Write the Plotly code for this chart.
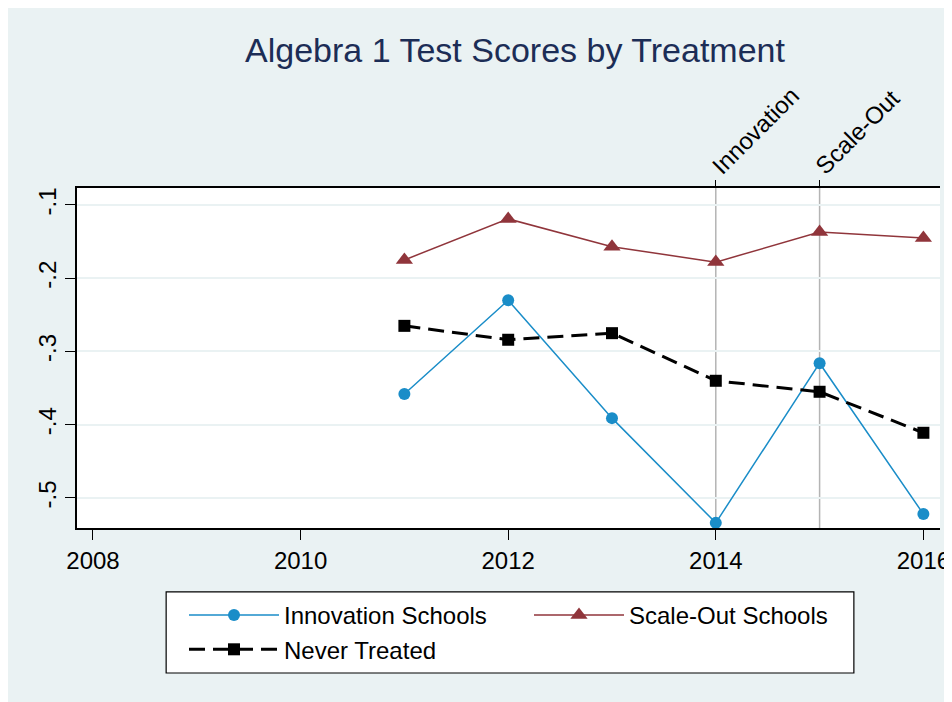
import plotly.graph_objects as go

# Data
years = [2011, 2012, 2013, 2014, 2015, 2016]
innovation = [-0.358, -0.230, -0.391, -0.534, -0.316, -0.522]
scale_out = [-0.175, -0.119, -0.157, -0.178, -0.137, -0.145]
never_treated = [-0.265, -0.284, -0.275, -0.340, -0.355, -0.411]

x_ticks = [2008, 2010, 2012, 2014, 2016]
y_ticks = [-0.1, -0.2, -0.3, -0.4, -0.5]
y_tick_labels = ['-.1', '-.2', '-.3', '-.4', '-.5']
events = [(2014, 'Innovation'), (2015, 'Scale-Out')]

FONT = 'Liberation Sans, Arial, sans-serif'
BG = '#EAF2F3'
COLORS = {
    'innovation': '#1A8DC8',
    'scale_out': '#90353B',
    'never': '#000000',
    'title': '#1C2D56',
}

# page body adds an 8px offset (white strip on left/top, like the reference)
W, H = 952, 702
X_RANGE = [2007.846, 2016.16]

fig = go.Figure()

fig.add_trace(go.Scatter(
    x=years, y=innovation, name='Innovation Schools', mode='lines+markers',
    line=dict(color=COLORS['innovation'], width=1.5),
    marker=dict(symbol='circle', size=12, color=COLORS['innovation']),
))
fig.add_trace(go.Scatter(
    x=years, y=scale_out, name='Scale-Out Schools', mode='lines+markers',
    line=dict(color=COLORS['scale_out'], width=1.5),
    marker=dict(symbol='triangle-up', size=15, color=COLORS['scale_out']),
))
fig.add_trace(go.Scatter(
    x=years, y=never_treated, name='Never Treated', mode='lines+markers',
    line=dict(color=COLORS['never'], width=3, dash='16px,8px'),
    marker=dict(symbol='square', size=12, color=COLORS['never']),
))

# Treatment start lines with rotated labels
for yr, label in events:
    fig.add_shape(type='line', x0=yr, x1=yr, y0=0, y1=1, xref='x', yref='paper',
                  line=dict(color='#B4B4B4', width=1.5), layer='below')
    fig.add_annotation(x=yr, y=1, xref='x', yref='paper', text=label,
                       textangle=-45, showarrow=False, xanchor='left', yanchor='bottom',
                       xshift=-12, yshift=6, font=dict(family=FONT, size=24, color='black'))

# Invisible trace on a top axis, only to carry the small event ticks
fig.add_trace(go.Scatter(x=[yr for yr, _ in events], y=[None, None], xaxis='x2',
                         showlegend=False, hoverinfo='skip'))

# Legend frame
fig.add_shape(type='rect', xref='paper', yref='paper',
              x0=0.1033, x1=0.9002, y0=-0.4265, y1=-0.188,
              line=dict(color='black', width=1.2), fillcolor='white', layer='below')

fig.update_layout(
    width=W, height=H,
    margin=dict(l=69, r=W - 932, t=180, b=H - 520, autoexpand=False),
    paper_bgcolor=BG, plot_bgcolor='white',
    font=dict(family=FONT, size=24, color='black'),
    title=dict(text='Algebra 1 Test Scores by Treatment', x=507 / W,
               xanchor='center', y=1 - 42 / H, yanchor='middle',
               font=dict(family=FONT, size=34, color=COLORS['title'])),
    showlegend=True,
    legend=dict(orientation='h', xref='container', yref='container',
                x=176 / W, y=1 - 585 / H, xanchor='left', yanchor='top',
                entrywidth=240, bgcolor='rgba(0,0,0,0)', borderwidth=0,
                font=dict(family=FONT, size=24), itemwidth=90, tracegroupgap=0),
    xaxis=dict(range=X_RANGE, tickvals=x_ticks, ticks='outside', ticklen=10,
               tickwidth=1.2, tickcolor='black', showgrid=False, zeroline=False,
               showline=True, linecolor='black', linewidth=1.5, mirror=True,
               tickfont=dict(size=24)),
    xaxis2=dict(overlaying='x', side='top', range=X_RANGE,
                tickvals=[yr for yr, _ in events], ticks='outside', ticklen=7,
                tickwidth=1.2, tickcolor='black', showticklabels=False,
                showgrid=False, zeroline=False),
    yaxis=dict(range=[-0.541, -0.0768], tickvals=y_ticks, ticktext=y_tick_labels,
               ticks='outside', ticklen=10, tickwidth=1.2, tickcolor='black',
               tickangle=-90, showgrid=True, gridcolor=BG, gridwidth=1.5,
               zeroline=False, showline=True, linecolor='black', linewidth=1.5,
               mirror=False, tickfont=dict(size=24)),
)

fig.write_html('out.html')
